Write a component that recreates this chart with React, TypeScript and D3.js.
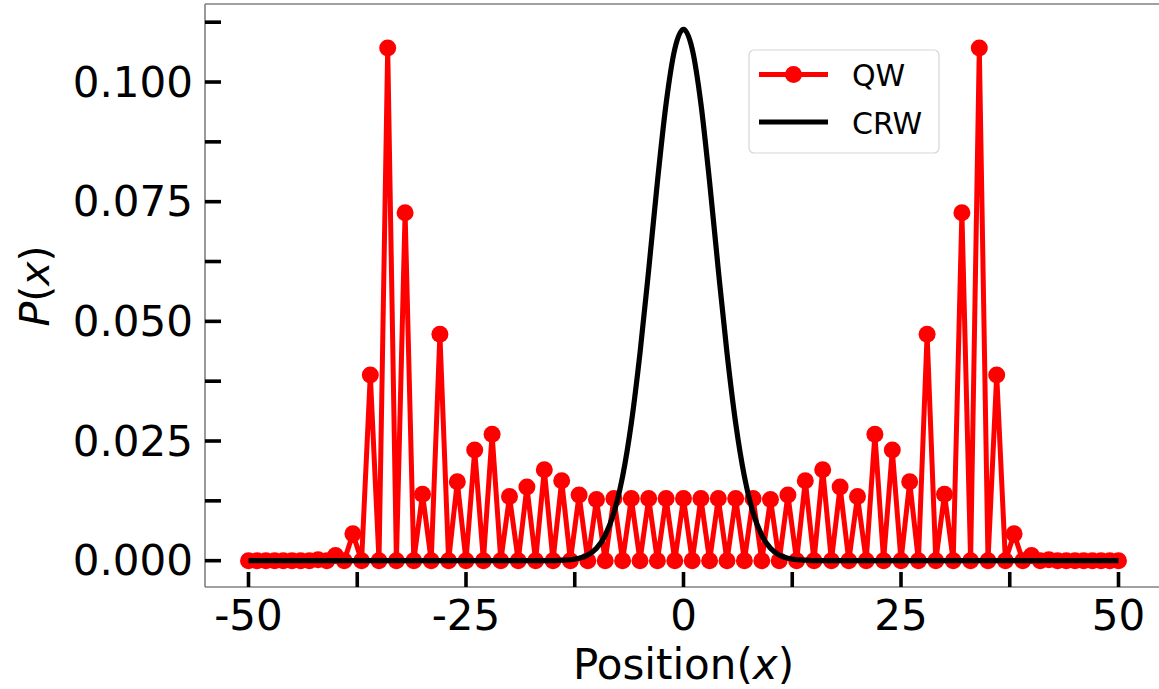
import React from "react";
import * as d3 from "d3";

// Positions of the walker (x categories)
const positions: number[] = d3.range(-50, 51);

// Quantum walk probabilities, x = -50 .. 50
const qwProb: number[] = [
  0, 0, 0, 0, 0, 0, 0, 0,
  0.0002, 0, 0.0011, 0, 0.0056, 0, 0.0388, 0, 0.1071, 0,
  0.0727, 0, 0.0139, 0, 0.0473, 0, 0.0165, 0, 0.0231, 0,
  0.0264, 0, 0.0134, 0, 0.0154, 0, 0.019, 0, 0.0167, 0,
  0.0137, 0, 0.0128, 0, 0.013, 0, 0.013, 0, 0.013, 0,
  0.013, 0,
  0.013,
  0, 0.013,
  0, 0.013, 0, 0.013, 0, 0.013, 0, 0.0128, 0, 0.0137,
  0, 0.0167, 0, 0.019, 0, 0.0154, 0, 0.0134, 0, 0.0264,
  0, 0.0231, 0, 0.0165, 0, 0.0473, 0, 0.0139, 0, 0.0727,
  0, 0.1071, 0, 0.0388, 0, 0.0056, 0, 0.0011, 0, 0.0002,
  0, 0, 0, 0, 0, 0, 0, 0,
];

// Classical random walk probabilities, x = -50 .. 50
const crwProb: number[] = [
  0, 0, 0, 0, 0, 0, 0, 0, 0, 0, 0, 0, 0, 0, 0, 0, 0, 0,
  0, 0, 0, 0, 0, 0, 0, 0, 0, 0, 0, 0, 0, 0, 0, 0, 0, 0,
  0.0001, 0.0002, 0.0005, 0.0012, 0.0026, 0.0053, 0.01, 0.0176, 0.0287, 0.0434, 0.0608, 0.0791, 0.0955, 0.1069,
  0.111,
  0.1069, 0.0955, 0.0791, 0.0608, 0.0434, 0.0287, 0.0176, 0.01, 0.0053, 0.0026, 0.0012, 0.0005, 0.0002, 0.0001,
  0, 0, 0, 0, 0, 0, 0, 0, 0, 0, 0, 0, 0, 0, 0, 0, 0, 0,
  0, 0, 0, 0, 0, 0, 0, 0, 0, 0, 0, 0, 0, 0, 0, 0, 0, 0,
];

const xTicks: number[] = [-50, -37.5, -25, -12.5, 0, 12.5, 25, 37.5, 50];
const xTickLabels: string[] = ["-50", "", "-25", "", "0", "", "25", "", "50"];
const yTicks: number[] = [0, 0.0125, 0.025, 0.0375, 0.05, 0.0625, 0.075, 0.0875, 0.1, 0.1125];
const yTickLabels: string[] = ["0.000", "", "0.025", "", "0.050", "", "0.075", "", "0.100", ""];
const seriesNames: string[] = ["QW", "CRW"];

const W = 1159;
const H = 689;
const FONT = "DejaVu Sans";

export default function App() {
  const left = 205, right = 1162, top = 4, bottom = 587;
  const x = d3.scaleLinear().domain([-55, 55]).range([left, right]);
  const y = d3.scaleLinear().domain([-0.0055, 0.1163]).range([bottom, top]);

  const qwData = positions.map((p, i) => [p, qwProb[i]] as [number, number]);
  const crwData = positions.map((p, i) => [p, crwProb[i]] as [number, number]);

  const qwLine = d3.line<[number, number]>().x(d => x(d[0])).y(d => y(d[1]))(qwData) || "";
  const crwLine = d3
    .line<[number, number]>()
    .x(d => x(d[0]))
    .y(d => y(d[1]))
    .curve(d3.curveMonotoneX)(crwData) || "";

  const tickLen = 16;

  return (
    <svg
      width={W}
      height={H}
      style={{ position: "absolute", left: 0, top: 0, background: "#fff" }}
      fontFamily={FONT}
    >
      <defs>
        <clipPath id="plotclip">
          <rect x={left} y={top} width={right - left} height={bottom - top} />
        </clipPath>
      </defs>
      <rect x={0} y={0} width={W} height={H} fill="#fff" />

      <g clipPath="url(#plotclip)">
        <path d={qwLine} fill="none" stroke="#ff0000" strokeWidth={5} strokeLinejoin="round" />
        {qwData.map((d, i) => (
          <circle key={i} cx={x(d[0])} cy={y(d[1])} r={8.5} fill="#ff0000" />
        ))}
        <path d={crwLine} fill="none" stroke="#000" strokeWidth={5.2} strokeLinejoin="round" />
      </g>

      {/* spines */}
      <line x1={left} x2={left} y1={top} y2={bottom} stroke="#808080" strokeWidth={1.6} />
      <line x1={left} x2={W} y1={top} y2={top} stroke="#808080" strokeWidth={1.6} />
      <line x1={left} x2={W} y1={bottom} y2={bottom} stroke="#808080" strokeWidth={1.6} />

      {/* y ticks */}
      {yTicks.map((t, i) => (
        <g key={"y" + i}>
          <line x1={left} x2={left + tickLen} y1={y(t)} y2={y(t)} stroke="#000" strokeWidth={3.6} />
          {yTickLabels[i] && (
            <text x={193} y={y(t)} dy="0.35em" textAnchor="end" fontSize={42} fill="#000">
              {yTickLabels[i]}
            </text>
          )}
        </g>
      ))}

      {/* x ticks */}
      {xTicks.map((t, i) => (
        <g key={"x" + i}>
          <line x1={x(t)} x2={x(t)} y1={bottom} y2={bottom - 15} stroke="#000" strokeWidth={3.6} />
          {xTickLabels[i] && (
            <text x={x(t)} y={629.5} textAnchor="middle" fontSize={42} fill="#000">
              {xTickLabels[i]}
            </text>
          )}
        </g>
      ))}

      {/* axis labels */}
      <text x={(left + right) / 2} y={679} textAnchor="middle" fontSize={42} fill="#000">
        Position(<tspan fontStyle="italic">x</tspan>)
      </text>
      <text
        transform={`translate(49, 286) rotate(-90)`}
        textAnchor="middle"
        fontSize={41}
        fill="#000"
      >
        <tspan fontStyle="italic">P</tspan>(<tspan fontStyle="italic">x</tspan>)
      </text>

      {/* legend */}
      <g>
        <rect x={749} y={50} width={190} height={103} rx={5} fill="#fff" fillOpacity={0.8} stroke="#d6d6d6" strokeWidth={1.2} />
        <line x1={759} x2={828} y1={74.5} y2={74.5} stroke="#ff0000" strokeWidth={5} />
        <circle cx={793.5} cy={74.5} r={8.5} fill="#ff0000" />
        <text x={852} y={86} fontSize={30} fill="#000">{seriesNames[0]}</text>
        <line x1={759} x2={828} y1={122} y2={122} stroke="#000" strokeWidth={5.2} />
        <text x={852} y={133.5} fontSize={30} fill="#000">{seriesNames[1]}</text>
      </g>
    </svg>
  );
}
